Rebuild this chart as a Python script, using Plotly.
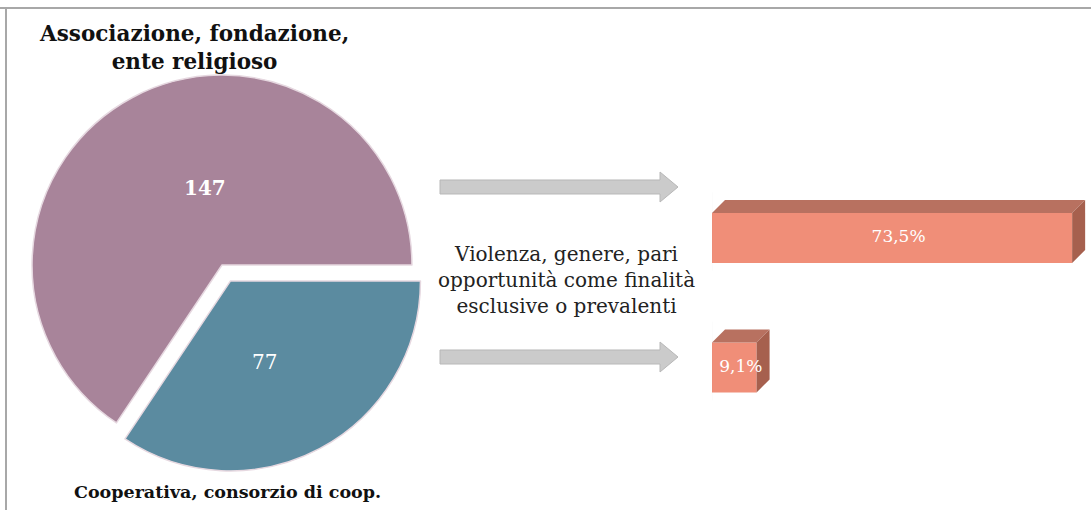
import plotly.graph_objects as go

# ---- data ----
pie_labels = ["Cooperativa, consorzio di coop.", "Associazione, fondazione, ente religioso"]
pie_values = [77, 147]
bar_categories = ["Associazione, fondazione, ente religioso", "Cooperativa, consorzio di coop."]
bar_values = [73.5, 9.1]
bar_positions = [1, 0]
middle_text = "Violenza, genere, pari<br>opportunità come finalità<br>esclusive o prevalenti"

W, H = 1091, 510
SERIF = "DejaVu Serif"

def px(x):
    return x / W

def py(y):
    return 1 - y / H

fig = go.Figure()

# ---- pie ----
fig.add_trace(go.Pie(
    labels=pie_labels,
    values=pie_values,
    sort=False,
    direction="clockwise",
    rotation=90,
    pull=[0.095, 0],
    marker=dict(colors=["#5B8BA0", "#A8849A"], line=dict(color="#E6D8E0", width=1.5)),
    textinfo="none",
    showlegend=False,
    hoverinfo="label+value",
    domain=dict(x=[px(14), px(430)], y=[py(473), py(57)]),
))

# ---- 3D bars ----
x_per_px = 1 / 4.9
y_per_px = 1 / 129.5
bar_w = 50 * y_per_px
dx = 13 * x_per_px
dy = 13 * y_per_px

fig.add_trace(go.Bar(
    x=bar_values, y=bar_positions, orientation="h", width=bar_w,
    marker=dict(color="#F08E78", line=dict(width=0)),
    xaxis="x", yaxis="y", showlegend=False, hoverinfo="x",
))

for v, p in zip(bar_values, bar_positions):
    top = p + bar_w / 2
    bot = p - bar_w / 2
    # top face
    fig.add_trace(go.Scatter(
        x=[0, dx, v + dx, v, 0], y=[top, top + dy, top + dy, top, top],
        fill="toself", fillcolor="#B87160", mode="lines", line=dict(width=0),
        showlegend=False, hoverinfo="skip", xaxis="x", yaxis="y"))
    # side face
    fig.add_trace(go.Scatter(
        x=[v, v + dx, v + dx, v, v], y=[top, top + dy, bot + dy, bot, top],
        fill="toself", fillcolor="#A6604E", mode="lines", line=dict(width=0),
        showlegend=False, hoverinfo="skip", xaxis="x", yaxis="y"))
    # left shadow
    fig.add_trace(go.Scatter(
        x=[-0.3, -0.3], y=[bot - 0.06, top + dy + 0.06], mode="lines",
        line=dict(color="rgba(60,60,60,0.45)", width=3),
        showlegend=False, hoverinfo="skip", xaxis="x", yaxis="y"))

fig.add_trace(go.Scatter(
    x=[v / 2 + dx / 2 for v in bar_values], y=bar_positions,
    mode="text", text=[f"{v:.1f}%".replace(".", ",") for v in bar_values],
    textfont=dict(family=SERIF, size=17, color="white"),
    showlegend=False, hoverinfo="skip", xaxis="x", yaxis="y"))

# ---- arrows ----
def arrow_path(x0, x1, yc, body_h=14, head_h=30, head_len=18):
    xb = x1 - head_len
    pts = [(x0, yc - body_h / 2), (xb, yc - body_h / 2), (xb, yc - head_h / 2), (x1, yc),
           (xb, yc + head_h / 2), (xb, yc + body_h / 2), (x0, yc + body_h / 2)]
    s = "M " + " L ".join(f"{px(a):.5f},{py(b):.5f}" for a, b in pts) + " Z"
    return s

shapes = []
for yc in (187, 357):
    shapes.append(dict(type="path", xref="paper", yref="paper", path=arrow_path(440, 678, yc),
                       fillcolor="#CBCBCB", line=dict(color="#B8B8B8", width=1)))
# frame
shapes.append(dict(type="line", xref="paper", yref="paper", x0=0, x1=1, y0=py(8), y1=py(8),
                   line=dict(color="#A8A8A8", width=2)))
shapes.append(dict(type="line", xref="paper", yref="paper", x0=px(6), x1=px(6), y0=py(8), y1=0,
                   line=dict(color="#A8A8A8", width=2)))

annotations = [
    dict(text="<b>Associazione, fondazione,<br>ente religioso</b>", x=px(194), y=py(47),
         font=dict(family=SERIF, size=21.5, color="#111111")),
    dict(text="<b>Cooperativa, consorzio di coop.</b>", x=px(227), y=py(492),
         font=dict(family=SERIF, size=17.5, color="#111111")),
    dict(text=middle_text, x=px(566), y=py(280),
         font=dict(family=SERIF, size=20, color="#222222")),
    # pie slice values
    dict(text=f"<b>{pie_values[1]}</b>", x=px(205), y=py(188),
         font=dict(family=SERIF, size=20, color="white")),
    dict(text=f"{pie_values[0]}", x=px(264), y=py(362),
         font=dict(family=SERIF, size=20, color="white")),
]
for a in annotations:
    a.update(xref="paper", yref="paper", showarrow=False, align="center",
             xanchor="center", yanchor="middle")

fig.update_layout(
    width=W, height=H,
    margin=dict(l=0, r=0, t=0, b=0),
    paper_bgcolor="white", plot_bgcolor="rgba(0,0,0,0)",
    separators=",.",
    xaxis=dict(domain=[px(712), 1], range=[0, (W - 712) * x_per_px], visible=False, fixedrange=True),
    yaxis=dict(domain=[0, 1], range=[-142.5 * y_per_px, (H - 142.5) * y_per_px], visible=False, fixedrange=True),
    shapes=shapes,
    annotations=annotations,
)

fig.write_html("out.html", config={"displayModeBar": False},
               post_script="document.body.style.margin='0';")
